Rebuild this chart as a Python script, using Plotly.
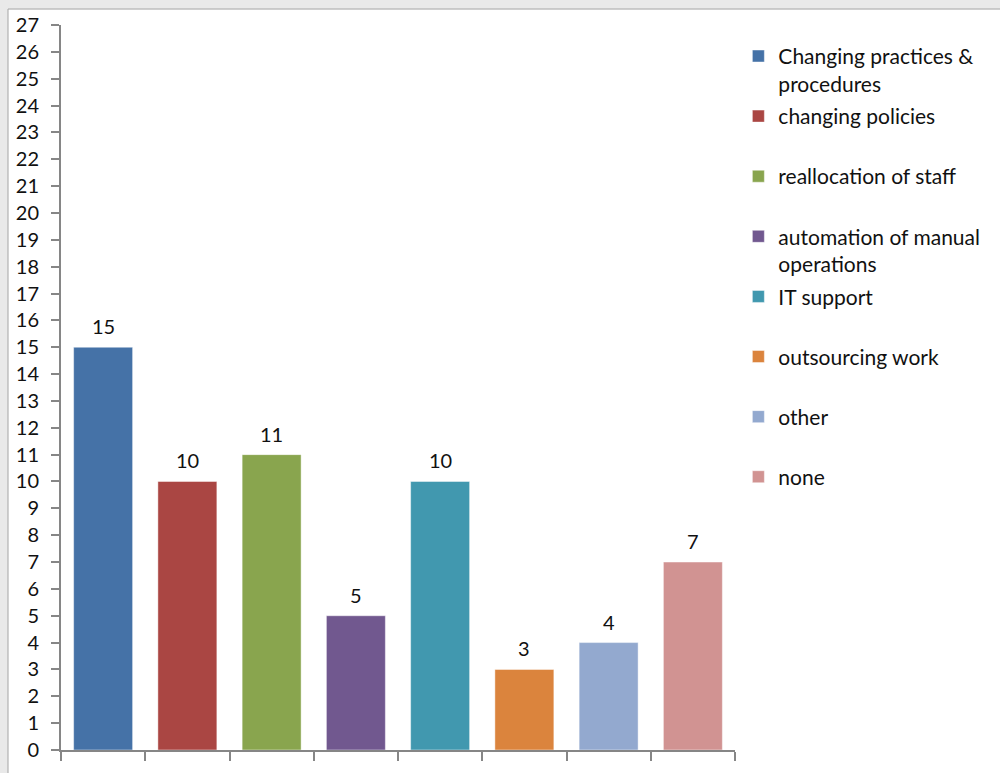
import plotly.graph_objects as go

# Survey responses per measure
categories = [
    "Changing practices &<br>procedures",
    "changing policies",
    "reallocation of staff",
    "automation of manual<br>operations",
    "IT support",
    "outsourcing work",
    "other",
    "none",
]
values = [15, 10, 11, 5, 10, 3, 4, 7]
colors = ["#4572A7", "#AA4643", "#89A54E", "#71588F",
          "#4198AF", "#DB843D", "#93A9CF", "#D19392"]
y_ticks = list(range(0, 28))

FONT = "Lato"
AXIS = "#868686"
TEXT = "#111111"

fig = go.Figure()
for i, (cat, val, col) in enumerate(zip(categories, values, colors)):
    # pad single-line entries to two lines so every legend slot has equal height
    label = cat if "<br>" in cat else cat + "<br>&nbsp;"
    fig.add_trace(go.Bar(
        x=[str(i)], y=[val], name=label,
        marker=dict(color=col, line=dict(color="rgba(255,255,255,0.45)", width=1)),
        legendgroup=str(i),
        hoverinfo="skip",
    ))
    fig.add_annotation(
        x=str(i), y=val, text=str(val), showarrow=False,
        yanchor="middle", yshift=21,
        font=dict(family=FONT, size=20, color=TEXT),
    )

# window frame around the chart
fig.add_shape(type="rect", xref="paper", yref="paper",
              x0=(8 - 61) / 674, x1=(1010 - 61) / 674,
              y0=(751 - 790) / 727, y1=(751 - 8) / 727,
              fillcolor="white", line=dict(color="#a4a4a4", width=1),
              layer="below")

fig.update_layout(
    width=1000, height=773,
    margin=dict(l=61, r=265, t=24, b=22),
    paper_bgcolor="#e9e9e9",
    plot_bgcolor="rgba(0,0,0,0)",
    barmode="overlay",
    bargap=0.3,
    showlegend=True,
    legend=dict(
        x=1.005, xanchor="left", y=0.985, yanchor="top",
        valign="top", tracegroupgap=2.5,
        font=dict(family=FONT, size=21, color=TEXT),
        bgcolor="rgba(0,0,0,0)",
    ),
    font=dict(family=FONT, size=20, color=TEXT),
)
fig.update_xaxes(
    type="category", showticklabels=False, tickson="boundaries",
    ticks="outside", ticklen=9, tickwidth=2, tickcolor=AXIS,
    showline=True, linecolor=AXIS, linewidth=2, showgrid=False,
    zeroline=False, fixedrange=True,
)
fig.update_yaxes(
    range=[0, 27], tickvals=y_ticks, ticktext=[str(t) for t in y_ticks],
    ticks="outside", ticklen=8, tickwidth=2, tickcolor=AXIS,
    ticklabelstandoff=8,
    tickfont=dict(family=FONT, size=20, color=TEXT),
    showline=True, linecolor=AXIS, linewidth=2, showgrid=False,
    zeroline=False, fixedrange=True,
)

fig.write_html("out.html")
